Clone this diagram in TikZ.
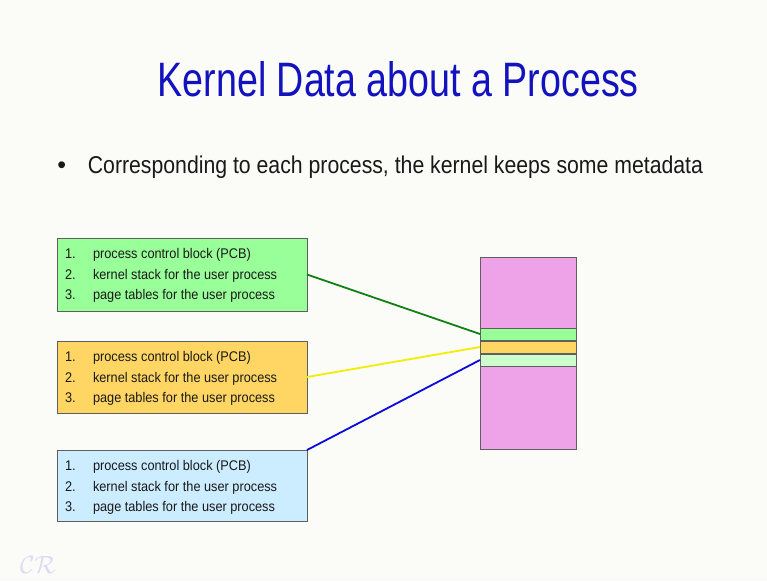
\documentclass[tikz,border=0pt]{standalone}
\usepackage{graphicx}
\usepackage{fontspec}
\setmainfont{Liberation Sans}
\definecolor{pagebg}{RGB}{251,251,247}
\definecolor{titleblue}{RGB}{18,18,190}
\definecolor{bodyblack}{RGB}{25,25,25}
\definecolor{boxgreen}{RGB}{153,255,153}
\definecolor{boxorange}{RGB}{255,214,100}
\definecolor{boxblue}{RGB}{204,236,255}
\definecolor{memviolet}{RGB}{238,162,232}
\definecolor{paleGreen}{RGB}{204,255,204}
\definecolor{edgegray}{RGB}{95,95,95}
\definecolor{linegreen}{RGB}{20,128,20}
\definecolor{lineyellow}{RGB}{242,238,0}
\definecolor{lineblue}{RGB}{10,10,220}
\definecolor{wmark}{RGB}{218,218,246}
\tikzset{
  pbox/.style={draw=edgegray, line width=0.8pt, inner sep=0pt, outer sep=0pt,
               minimum width=250pt, minimum height=72pt, anchor=north west},
  membox/.style={draw=edgegray, line width=0.8pt, inner sep=0pt, outer sep=0pt,
               minimum width=96pt, anchor=north west},
  itemtxt/.style={inner sep=0pt, outer sep=0pt, text=bodyblack,
               font=\fontsize{14}{14}\selectfont},
  link/.style={line width=1.8pt}
}
% numbered list of kernel data placed inside a process box
\newcommand\plist[1]{%
  \foreach \i/\t/\yy in {1/process control block (PCB)/20,
                         2/kernel stack for the user process/41,
                         3/page tables for the user process/61}{
    \node[itemtxt, anchor=base west] (#1-n\i)
      at ([xshift=8pt,yshift=-\yy pt]#1.north west) {\scalebox{0.91}[1]{\i.}};
    \node[itemtxt, anchor=base west] (#1-t\i)
      at ([xshift=36pt,yshift=-\yy pt]#1.north west) {\scalebox{0.91}[1]{\t}};
  }}
\begin{document}
\begin{tikzpicture}[x=1pt,y=-1pt]
  \fill[pagebg] (0,0) rectangle (767,581);
  \useasboundingbox (0,0) rectangle (767,581);

  % heading and bullet line
  \node[anchor=base west, inner sep=0pt, text=titleblue] (title) at (157.5,96.7)
    {\resizebox{481pt}{35pt}{Kernel Data about a Process}};
  \node[anchor=base, inner sep=0pt, text=bodyblack] (bullet) at (61.7,173.3)
    {\fontsize{25}{25}\selectfont\textbullet};
  \node[anchor=base west, inner sep=0pt, text=bodyblack] (lead) at (87.7,173.3)
    {\resizebox{615pt}{17.6pt}{Corresponding to each process, the kernel keeps some metadata}};

  % per-process boxes
  \node[pbox, fill=boxgreen, minimum height=73pt] (pg) at (57,238) {};
  \node[pbox, fill=boxorange] (po) at (57,341) {};
  \node[pbox, fill=boxblue, minimum height=71pt] (pb) at (57,450) {};
  \plist{pg}
  \plist{po}
  \plist{pb}

  % kernel memory with one slot per process
  \node[membox, fill=memviolet, minimum height=192pt] (mem) at (480,257) {};
  \node[membox, fill=boxgreen, minimum height=12pt] (slotg) at (480,328) {};
  \node[membox, fill=boxorange, minimum height=12pt] (sloto) at (480,341) {};
  \node[membox, fill=paleGreen, minimum height=12pt] (slotb) at (480,354) {};

  % connectors
  \draw[link, linegreen] (pg.east) -- (slotg.west);
  \draw[link, lineyellow] (po.east) -- (sloto.west);
  \draw[link, lineblue] (pb.north east) -- (slotb.west);

  % signature mark
  \node[text=wmark, inner sep=0pt] (sig) at (38,565)
    {\fontsize{36}{36}\selectfont$\mathcal{CR}$};
\end{tikzpicture}
\end{document}
